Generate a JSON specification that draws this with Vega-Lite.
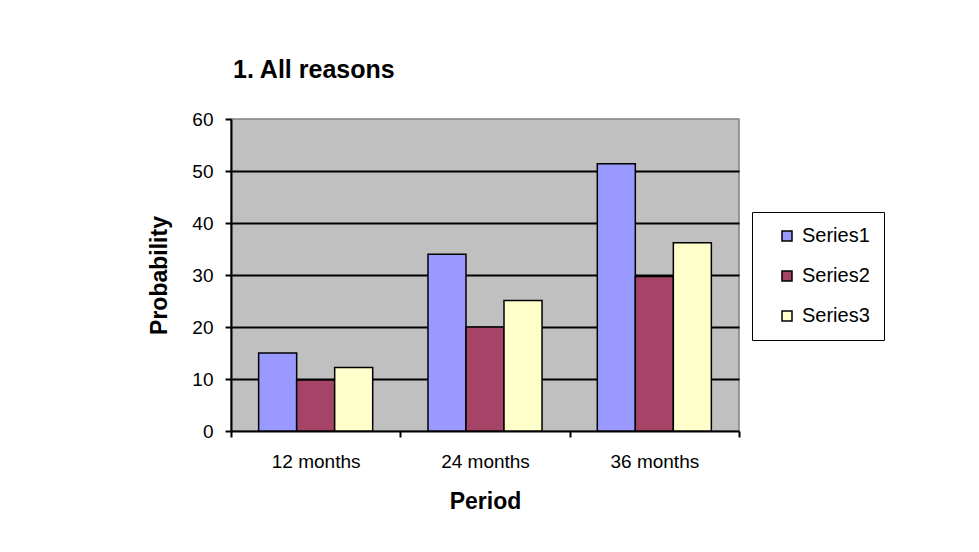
{
  "$schema": "https://vega.github.io/schema/vega-lite/v6.json",
  "autosize": {"type": "none"},
  "width": 508,
  "height": 312,
  "padding": {"left": 231, "top": 119, "right": 240, "bottom": 121},
  "background": "white",
  "title": {
    "text": "1. All reasons",
    "anchor": "start",
    "frame": "group",
    "font": "Liberation Sans",
    "fontSize": 25,
    "fontWeight": "bold",
    "color": "black",
    "baseline": "alphabetic",
    "offset": 7,
    "dx": 2
  },
  "data": {
    "values": [
      {"period": "12 months", "series": "Series1", "value": 15},
      {"period": "12 months", "series": "Series2", "value": 9.8},
      {"period": "12 months", "series": "Series3", "value": 12.2},
      {"period": "24 months", "series": "Series1", "value": 34},
      {"period": "24 months", "series": "Series2", "value": 20},
      {"period": "24 months", "series": "Series3", "value": 25.1},
      {"period": "36 months", "series": "Series1", "value": 51.4},
      {"period": "36 months", "series": "Series2", "value": 29.7},
      {"period": "36 months", "series": "Series3", "value": 36.2}
    ]
  },
  "mark": {"type": "bar", "stroke": "black", "strokeWidth": 1.5},
  "encoding": {
    "x": {
      "field": "period",
      "type": "nominal",
      "title": "Period",
      "scale": {"paddingInner": 0, "paddingOuter": 0},
      "axis": {
        "labelAngle": 0,
        "tickBand": "extent",
        "tickSize": 6,
        "labelPadding": 15,
        "titlePadding": 19
      }
    },
    "xOffset": {
      "field": "series",
      "type": "nominal",
      "scale": {"paddingInner": 0, "paddingOuter": 0.727}
    },
    "y": {
      "field": "value",
      "type": "quantitative",
      "title": "Probability",
      "scale": {"domain": [0, 60], "nice": false},
      "axis": {
        "values": [0, 10, 20, 30, 40, 50, 60],
        "tickSize": 6,
        "labelPadding": 12,
        "titlePadding": 20,
        "grid": true,
        "gridColor": "black",
        "gridWidth": 2,
        "gridOpacity": {"condition": {"test": "datum.value == 60 || datum.value == 0", "value": 0}, "value": 1}
      }
    },
    "fill": {
      "field": "series",
      "type": "nominal",
      "title": null,
      "scale": {"domain": ["Series1", "Series2", "Series3"], "range": ["#9999FF", "#A54466", "#FFFFCC"]},
      "legend": {
        "orient": "none",
        "legendX": 521,
        "legendY": 93,
        "strokeColor": "black",
        "padding": 14,
        "rowPadding": 20,
        "symbolType": "square",
        "symbolSize": 100,
        "symbolStrokeColor": "black",
        "symbolStrokeWidth": 1.5,
        "symbolOffset": 11,
        "labelFont": "Liberation Sans",
        "labelFontSize": 20,
        "labelColor": "black",
        "labelOffset": 5,
        "labelExpr": "datum.label + '\u00a0\u00a0\u00a0'"
      }
    }
  },
  "config": {
    "view": {"fill": "#C0C0C0", "stroke": "#808080", "strokeWidth": 1.5},
    "axis": {
      "domainColor": "black",
      "domainWidth": 2,
      "tickColor": "black",
      "tickWidth": 2,
      "labelFont": "Liberation Sans",
      "labelFontSize": 19,
      "labelColor": "black",
      "titleFont": "Liberation Sans",
      "titleFontSize": 23,
      "titleFontWeight": "bold",
      "titleColor": "black"
    }
  }
}
